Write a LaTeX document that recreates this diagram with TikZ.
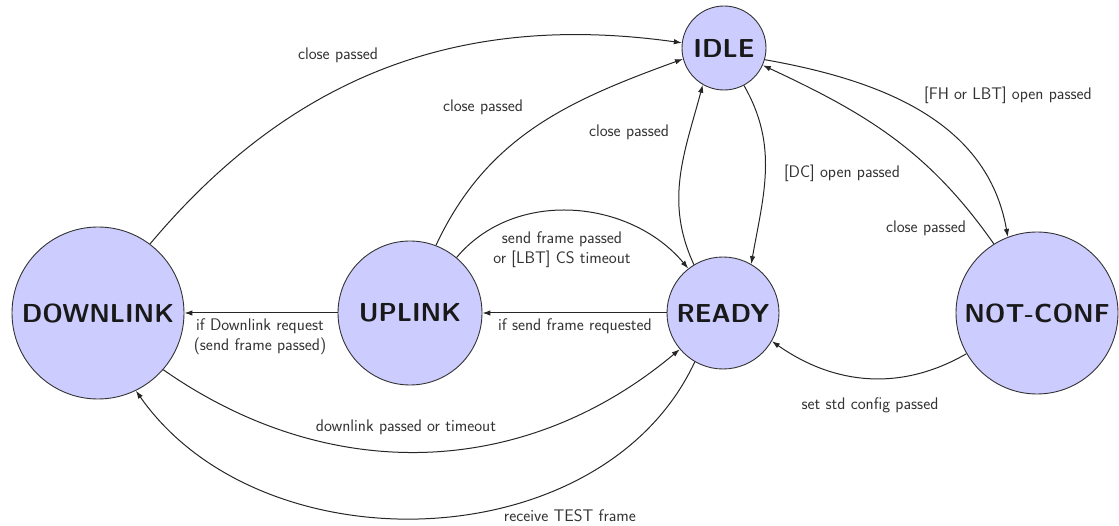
\documentclass[tikz,border=0pt]{standalone}
\usetikzlibrary{arrows.meta}
\begin{document}
\begin{tikzpicture}[x=1pt,y=1pt,
  state/.style={circle, draw=black!80, line width=0.9pt, fill=blue!20, inner sep=0pt,
    font=\sffamily\bfseries\fontsize{26}{30}\selectfont, text=black!90},
  lbl/.style={font=\sffamily\fontsize{16.8}{20}\selectfont, text=black!80, inner sep=1pt, align=center},
  edge/.style={-{Latex[length=8pt,width=5.5pt]}, line width=1pt, draw=black!85}]
\useasboundingbox (0,0) rectangle (1119,-526);
% states
\node[state, minimum size=84pt]  (I)  at (724,-48)  {IDLE};
\node[state, minimum size=172pt] (D)  at (98,-313)  {DOWNLINK};
\node[state, minimum size=144pt] (U)  at (410,-313) {UPLINK};
\node[state, minimum size=112pt] (R)  at (723,-313) {READY};
\node[state, minimum size=162pt] (NC) at (1037,-313) {NOT-CONF};
% transitions
\draw[edge] (D.53)  to[out=50, in=172]  (I.173);
\draw[edge] (U.69)  to[out=65, in=200]  (I.195);
\draw[edge] (R.121) to[out=115, in=255] (I.240);
\draw[edge] (I.298) to[out=-60, in=80]  (R.60);
\draw[edge] (I.-16) to[out=-10, in=100] (NC.111);
\draw[edge] (NC.122) to[out=125, in=-25] (I.-24);
\draw[edge] (NC.210) to[out=210, in=-35] (R.-30);
\draw[edge] (R) -- (U);
\draw[edge] (U.50)  to[out=50, in=130]  (R.128);
\draw[edge] (U) -- (D);
\draw[edge] (D.-41) to[out=-35, in=-140] (R.-140);
\draw[edge] (R.-120) to[out=-115, in=-55] (D.-64);
% labels
\node[lbl] (l1)  at (338,-55)  {close passed};
\node[lbl] (l2)  at (483,-107) {close passed};
\node[lbl] (l3)  at (629,-132) {close passed};
\node[lbl] (l4)  at (842,-173) {[DC] open passed};
\node[lbl] (l5)  at (1008,-95) {[FH or LBT] open passed};
\node[lbl] (l6)  at (926,-228) {close passed};
\node[lbl] (l7)  at (870,-405) {set std config passed};
\node[lbl] (l8)  at (575,-326) {if send frame requested};
\node[lbl] (l9)  at (562,-250) {send frame passed\\or [LBT] CS timeout};
\node[lbl] (l10) at (260,-337) {if Downlink request\\(send frame passed)};
\node[lbl] (l11) at (406,-427) {downlink passed or timeout};
\node[lbl] (l12) at (570,-516) {receive TEST frame};
\end{tikzpicture}
\end{document}
